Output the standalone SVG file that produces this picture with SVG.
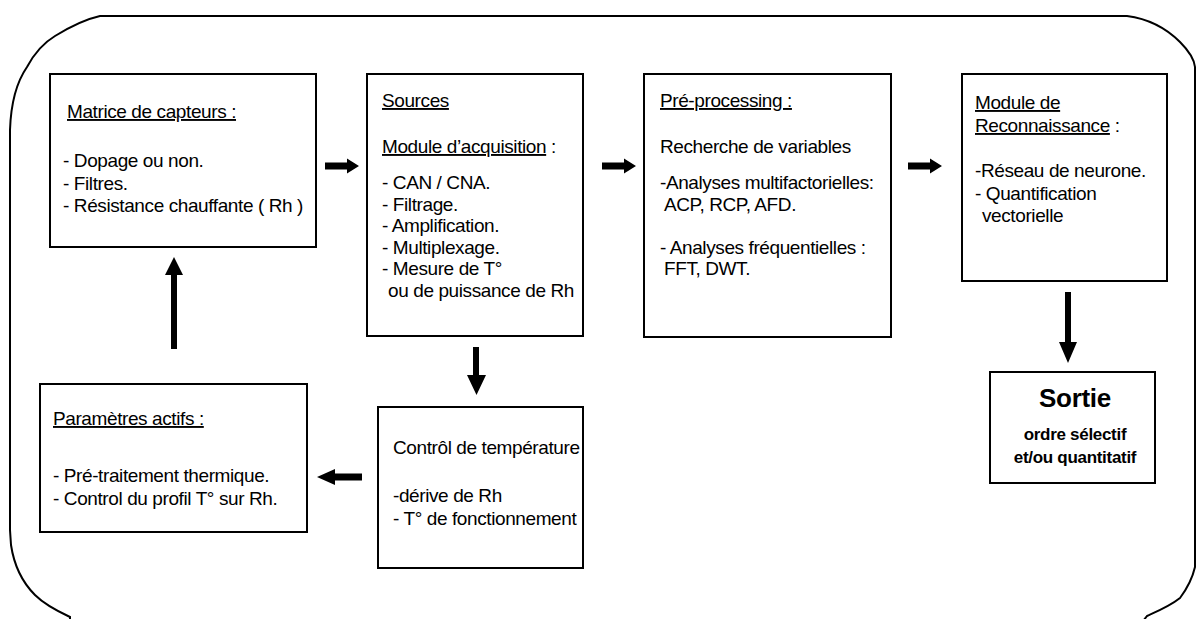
<svg xmlns="http://www.w3.org/2000/svg" width="1196" height="619" viewBox="0 0 1196 619">
<style>
  .box { fill: #fff; stroke: #000; stroke-width: 2; }
  .t { font-family: "Liberation Sans", Arial, sans-serif; font-size: 19px; letter-spacing: -0.4px; fill: #000; }
  .u { text-decoration: underline; }
  .b { font-weight: bold; letter-spacing: -0.3px; }
  .arrow { fill: #000; stroke: none; }
</style>
<rect width="1196" height="619" fill="#fff"/>
<path id="border" d="M100,16 L1127,16 C1150,19 1168,30 1180,42 C1188,50 1194,58 1195,67 L1195,567 C1192,580 1186,590 1180,598 C1170,606 1158,611 1147,616 L1140,625 L70,625 L70,617 C55,610 42,602 35,595 C22,582 14,565 11,545 L10,530 L10,130 C11,100 18,80 27,67 C35,52 45,42 55,36 C68,28 82,20 100,16 Z" fill="none" stroke="#000" stroke-width="2"/>

<g id="matrice">
  <rect class="box" x="50" y="74" width="266" height="173"/>
  <text class="t" x="67" y="118"><tspan class="u">Matrice de capteurs :</tspan></text>
  <text class="t" x="63" y="167">- Dopage ou non.</text>
  <text class="t" x="63" y="189.5">- Filtres.</text>
  <text class="t" x="63" y="212">- Résistance chauffante ( Rh )</text>
</g>

<g id="sources">
  <rect class="box" x="367" y="74" width="216" height="262"/>
  <text class="t" x="382" y="107"><tspan class="u">Sources</tspan></text>
  <text class="t" x="382" y="153"><tspan class="u">Module d’acquisition</tspan> :</text>
  <text class="t" x="382" y="189">- CAN / CNA.</text>
  <text class="t" x="382" y="210.5">- Filtrage.</text>
  <text class="t" x="382" y="232">- Amplification.</text>
  <text class="t" x="382" y="253.5">- Multiplexage.</text>
  <text class="t" x="382" y="275">- Mesure de T°</text>
  <text class="t" x="388" y="296.5">ou de puissance de Rh</text>
</g>

<g id="preprocessing">
  <rect class="box" x="644" y="74" width="247" height="263"/>
  <text class="t" x="660" y="107"><tspan class="u">Pré-processing :</tspan></text>
  <text class="t" x="660" y="153">Recherche de variables</text>
  <text class="t" x="660" y="189">-Analyses multifactorielles:</text>
  <text class="t" x="664" y="211">ACP, RCP, AFD.</text>
  <text class="t" x="660" y="254">- Analyses fréquentielles :</text>
  <text class="t" x="664" y="275">FFT, DWT.</text>
</g>

<g id="reconnaissance">
  <rect class="box" x="962" y="74" width="205" height="207"/>
  <text class="t" x="975" y="109"><tspan class="u">Module de</tspan></text>
  <text class="t" x="975" y="132"><tspan class="u">Reconnaissance</tspan> :</text>
  <text class="t" x="975" y="177">-Réseau de neurone.</text>
  <text class="t" x="975" y="200">- Quantification</text>
  <text class="t" x="982" y="222">vectorielle</text>
</g>

<g id="sortie">
  <rect class="box" x="990" y="372" width="165" height="111"/>
  <text class="t b" x="1075" y="407" text-anchor="middle" style="font-size:26px">Sortie</text>
  <text class="t b" x="1075" y="440" text-anchor="middle" style="font-size:17px">ordre sélectif</text>
  <text class="t b" x="1075" y="463" text-anchor="middle" style="font-size:17px">et/ou quantitatif</text>
</g>

<g id="controle">
  <rect class="box" x="378" y="407" width="205" height="161"/>
  <text class="t" x="393" y="454">Contrôl de température</text>
  <text class="t" x="393" y="502">-dérive de Rh</text>
  <text class="t" x="393" y="525">- T° de fonctionnement</text>
</g>

<g id="parametres">
  <rect class="box" x="40" y="384" width="267" height="148"/>
  <text class="t" x="53" y="425"><tspan class="u">Paramètres actifs :</tspan></text>
  <text class="t" x="53" y="482">- Pré-traitement thermique.</text>
  <text class="t" x="53" y="505">- Control du profil T° sur Rh.</text>
</g>

<g id="connectors">
  <path class="arrow" d="M325,162.5 L347,162.5 L347,158.5 L359,166 L347,173.5 L347,169.5 L325,169.5 Z"/>
  <path class="arrow" d="M602,162.5 L624,162.5 L624,158.5 L636,166 L624,173.5 L624,169.5 L602,169.5 Z"/>
  <path class="arrow" d="M908,162.5 L930,162.5 L930,158.5 L942,166 L930,173.5 L930,169.5 L908,169.5 Z"/>
  <path class="arrow" d="M1065,292 L1071,292 L1071,342 L1077,342 L1068,363 L1059,342 L1065,342 Z"/>
  <path class="arrow" d="M473,347 L479,347 L479,375 L486,375 L476.5,395 L467,375 L473,375 Z"/>
  <path class="arrow" d="M362,473.5 L335,473.5 L335,469 L317,477 L335,485 L335,480.5 L362,480.5 Z"/>
  <path class="arrow" d="M171,349 L171,275 L165,275 L174,257 L183,275 L177,275 L177,349 Z"/>
</g>
</svg>
